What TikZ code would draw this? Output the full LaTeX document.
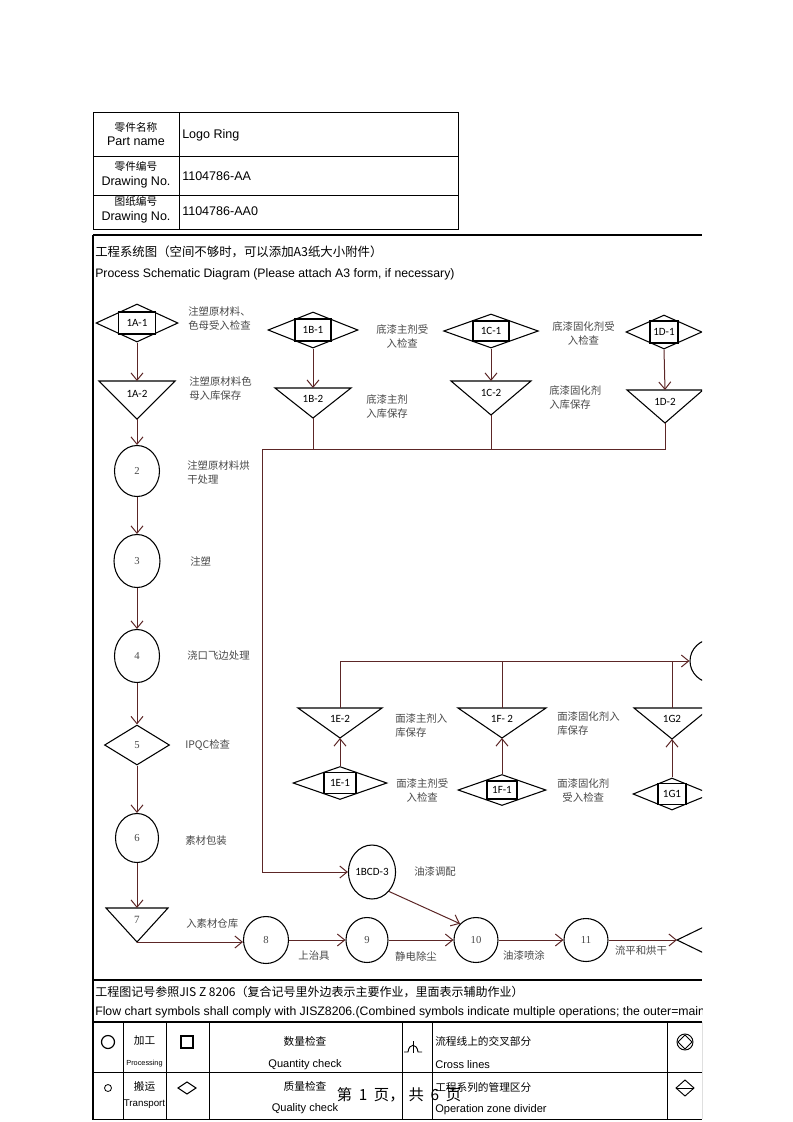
\documentclass[tikz,border=0pt]{standalone}
\usepackage{fontspec}
\setmainfont{Liberation Sans}
\newfontfamily\cjk{Noto Sans CJK SC}
\newfontfamily\tagfont{Carlito}
\newfontfamily\numfont{Liberation Serif}
\usetikzlibrary{shapes.geometric,arrows.meta}

\definecolor{flowred}{RGB}{92,38,38}
\definecolor{descgray}{RGB}{72,72,72}

\tikzset{
  shapeline/.style={draw=black, line width=0.8pt},
  inspect/.style={shapeline, diamond, inner sep=0pt},
  tagbox/.style={shapeline, fill=white, inner sep=0pt, font=\tagfont\fontsize{8.3}{10}\selectfont},
  work/.style={shapeline, ellipse, inner sep=0pt, font=\numfont\fontsize{8}{9}\selectfont, text=descgray},
  desc/.style={font=\cjk\fontsize{7.8}{10.5}\selectfont, text=descgray, inner sep=0pt, anchor=west, align=left},
  flow/.style={draw=flowred, line width=0.75pt},
  flowarrow/.style={flow, -{Straight Barb[length=5.5pt,width=9pt]}},
  cell/.style={inner sep=0pt, align=center, font=\fontsize{8.3}{10.5}\selectfont},
  headcell/.style={inner sep=0pt, align=center, font=\fontsize{9.4}{11}\selectfont},
  frameline/.style={line width=0.9pt}
}

% storage triangle: name, x, top, half width, height, label
\newcommand{\storetri}[6]{%
  \draw[shapeline] (#2-#4,#3) -- (#2+#4,#3) -- (#2,#3+#5) -- cycle;
  \coordinate (#1top) at (#2,#3);
  \coordinate (#1tip) at (#2,#3+#5);
  \node[inner sep=0pt, font=\tagfont\fontsize{8.3}{10}\selectfont] (#1) at (#2,#3+0.35*#5) {#6};}

\begin{document}
\begin{tikzpicture}[x=0.75pt, y=-0.75pt]
\useasboundingbox (0,0) rectangle (793,1122);
\begin{scope}
\clip (0,0) rectangle (702,1122);

% part table
\draw[line width=0.7pt] (93,112) rectangle (458,229);
\draw[line width=0.7pt] (179,112) -- (179,229) (93,156) -- (458,156) (93,195) -- (458,195);
\node[headcell] (nameh) at (136,134) {{\cjk\fontsize{8}{11}\selectfont 零件名称}\\Part name};
\node[headcell] (parth) at (136,175) {{\cjk\fontsize{8}{11}\selectfont 零件编号}\\Drawing No.};
\node[headcell] (drawh) at (136,210) {{\cjk\fontsize{8}{11}\selectfont 图纸编号}\\Drawing No.};
\node[headcell, anchor=west] (namev) at (182,135) {Logo Ring};
\node[headcell, anchor=west] (partv) at (182,176) {1104786-AA};
\node[headcell, anchor=west] (drawv) at (182,211) {1104786-AA0};

% frame
\draw[line width=1.4pt] (93,235) -- (93,1120);
\draw[frameline] (93,235) -- (702,235);
\draw[frameline] (93,980) -- (702,980);
\draw[frameline] (93,1022) -- (702,1022);
\node[anchor=west, inner sep=0pt, font=\cjk\fontsize{9.3}{11}\selectfont] (title) at (95,252) {工程系统图（空间不够时，可以添加A3纸大小附件）};
\node[anchor=west, inner sep=0pt, font=\fontsize{9.2}{11}\selectfont] (subtitle) at (95,274) {Process Schematic Diagram (Please attach A3 form, if necessary)};

% column A
\node[inspect, minimum width=61.5pt, minimum height=28.5pt] (a1d) at (137,323) {};
\node[tagbox, minimum width=27.75pt, minimum height=16.5pt] (a1) at (137,323) {1A-1};
\storetri{a2}{137}{381}{38}{38}{1A-2}
\node[work, minimum width=33.75pt, minimum height=38.25pt] (p2) at (137,471) {2};
\node[work, minimum width=34.5pt, minimum height=39.75pt] (p3) at (137,561) {3};
\node[work, minimum width=33.75pt, minimum height=39.75pt] (p4) at (137,656) {4};
\node[inspect, minimum width=48.75pt, minimum height=30pt, font=\numfont\fontsize{8}{9}\selectfont, text=descgray] (p5) at (137,745) {5};
\node[work, minimum width=32.25pt, minimum height=36.75pt] (p6) at (137,838) {6};
\storetri{p7}{137}{908}{31}{34}{{\numfont\color{descgray}7}}

\node[desc] (a1t) at (188,319) {注塑原材料、\\色母受入检查};
\node[desc] (a2t) at (189,389) {注塑原材料色\\母入库保存};
\node[desc] (p2t) at (187,473) {注塑原材料烘\\干处理};
\node[desc] (p3t) at (190,561) {注塑};
\node[desc] (p4t) at (187,656) {浇口飞边处理};
\node[desc] (p5t) at (185,745) {IPQC检查};
\node[desc] (p6t) at (185,841) {素材包装};
\node[desc] (p7t) at (186,924) {入素材仓库};

\draw[flowarrow] (a1d.south) -- (a2top);
\draw[flowarrow] (a2tip) -- (p2);
\draw[flowarrow] (p2) -- (p3);
\draw[flowarrow] (p3) -- (p4);
\draw[flowarrow] (p4) -- (p5);
\draw[flowarrow] (p5) -- (p6);
\draw[flowarrow] (p6) -- (p7top);

% primer columns B, C, D
\node[inspect, minimum width=67.5pt, minimum height=27pt] (b1d) at (313,330) {};
\node[tagbox, minimum width=27pt, minimum height=16.5pt] (b1) at (313,330) {1B-1};
\storetri{b2}{313}{388}{38}{30}{1B-2}
\node[inspect, minimum width=71pt, minimum height=25.5pt] (c1d) at (491,331) {};
\node[tagbox, minimum width=27pt, minimum height=15pt] (c1) at (491,331) {1C-1};
\storetri{c2}{491}{381}{40}{34}{1C-2}
\node[inspect, minimum width=57pt, minimum height=25.5pt] (d1d) at (664,332) {};
\node[tagbox, minimum width=21pt, minimum height=16.5pt] (d1) at (664,332) {1D-1};
\storetri{d2}{665}{390}{38}{33}{1D-2}

\node[desc, align=center] (b1t) at (376,337) {底漆主剂受\\入检查};
\node[desc] (b2t) at (366,407) {底漆主剂\\入库保存};
\node[desc, align=center] (c1t) at (552,334) {底漆固化剂受\\入检查};
\node[desc] (c2t) at (549,398) {底漆固化剂\\入库保存};

\draw[flowarrow] (b1d.south) -- (b2top);
\draw[flowarrow] (c1d.south) -- (c2top);
\draw[flowarrow] (d1d.south) -- (d2top);

% paint mixing
\coordinate (busl) at (262,449);
\node[work, font=\tagfont\fontsize{8.3}{10}\selectfont, text=black, minimum width=33pt, minimum height=40.5pt] (bcd) at (372,872) {1BCD-3};
\node[desc] (bcdt) at (414,872) {油漆调配};
\draw[flow] (b2tip) -- (b2tip |- busl);
\draw[flow] (c2tip) -- (c2tip |- busl);
\draw[flowarrow] (d2tip) -- (d2tip |- busl) -- (busl) -- (busl |- bcd) -- (bcd);

% top coat columns E, F, G
\storetri{e2}{340}{708}{42}{30}{1E-2}
\node[inspect, minimum width=70.5pt, minimum height=24.75pt] (e1d) at (340,783) {};
\node[tagbox, minimum width=24pt, minimum height=15.75pt] (e1) at (340,783) {1E-1};
\storetri{f2}{502}{708}{44}{30}{1F- 2}
\node[inspect, minimum width=66pt, minimum height=23.25pt] (f1d) at (502,790) {};
\node[tagbox, minimum width=22.5pt, minimum height=13.5pt] (f1) at (502,790) {1F-1};
\storetri{g2}{672}{708}{38}{31}{1G2}
\node[inspect, minimum width=58.5pt, minimum height=24pt] (g1d) at (672,794) {};
\node[tagbox, minimum width=21pt, minimum height=15.75pt] (g1) at (672,794) {1G1};
\node[work, minimum width=34.5pt, minimum height=33pt] (rc) at (713,661) {};

\node[desc] (e2t) at (395,726) {面漆主剂入\\库保存};
\node[desc, align=center] (e1t) at (396,791) {面漆主剂受\\入检查};
\node[desc] (f2t) at (557,724) {面漆固化剂入\\库保存};
\node[desc, align=center] (f1t) at (557,791) {面漆固化剂\\受入检查};

\draw[flowarrow] (e1d.north) -- (e2tip);
\draw[flowarrow] (f1d.north) -- (f2tip);
\draw[flowarrow] (g1d.north) -- (g2tip);
\draw[flow] (f2top) -- (f2top |- rc);
\draw[flow] (g2top) -- (g2top |- rc);
\draw[flowarrow] (e2top) -- (e2top |- rc) -- (rc);

% painting line
\node[work, minimum width=33.75pt, minimum height=35.25pt] (p8) at (266,940) {8};
\node[work, minimum width=31.5pt, minimum height=33.75pt] (p9) at (367,940) {9};
\node[work, minimum width=33pt, minimum height=33.75pt] (p10) at (476,940) {10};
\node[work, minimum width=33pt, minimum height=32.25pt] (p11) at (586,940) {11};
\coordinate (xpt) at (677,940);
\draw[shapeline] (712,923) -- (xpt) -- (712,957);

\node[desc, anchor=center] (p8t) at (314,956) {上治具};
\node[desc, anchor=center] (p9t) at (416,956) {静电除尘};
\node[desc, anchor=center] (p10t) at (524,955) {油漆喷涂};
\node[desc, anchor=center] (p11t) at (641,951) {流平和烘干};

\draw[flowarrow] (p7tip) -- (p7tip -| p8.west);
\draw[flowarrow] (p8) -- (p9);
\draw[flowarrow] (p9) -- (p10);
\draw[flowarrow] (p10) -- (p11);
\draw[flowarrow] (p11) -- (xpt);
\draw[flowarrow] (bcd.south east) -- (p10.north west);

% symbol notes
\node[anchor=west, inner sep=0pt, font=\cjk\fontsize{9}{10}\selectfont] (note) at (95,992) {工程图记号参照JIS Z 8206（复合记号里外边表示主要作业，里面表示辅助作业）};
\node[anchor=west, inner sep=0pt, font=\fontsize{9.2}{10}\selectfont] (notee) at (95,1012) {Flow chart symbols shall comply with JISZ8206.(Combined symbols indicate multiple operations; the outer=main operation)};

% legend table
\draw[line width=0.7pt] (93,1072) -- (702,1072) (93,1119) -- (702,1119);
\foreach \cx in {123,166,209,402,432,667,702}
  \draw[line width=0.7pt] (\cx,1022) -- (\cx,1119);

\draw[line width=0.9pt] (108,1042) circle[radius=6.5];
\draw[line width=0.8pt] (181,1036) rectangle (193,1048);
\draw[line width=0.7pt] (404,1052) -- (408,1052) .. controls (409,1043) and (417,1043) .. (418,1052) -- (422,1052);
\draw[line width=0.7pt] (413,1041) -- (413,1053);
\draw[line width=0.7pt] (685,1042) circle[radius=8];
\draw[line width=0.7pt] (685,1035) -- (692,1042) -- (685,1049) -- (678,1042) -- cycle;
\draw[line width=0.6pt] (108,1088) circle[radius=3.5];
\draw[line width=0.8pt] (178,1088) -- (187,1082) -- (196,1088) -- (187,1094) -- cycle;
\draw[line width=0.7pt] (676,1088) -- (685,1080) -- (694,1088) -- (685,1096) -- cycle;
\draw[line width=0.7pt] (676,1088) -- (694,1088);

\node[cell, font=\cjk\fontsize{8}{10}\selectfont] (procc) at (144.5,1041) {加工};
\node[cell, font=\fontsize{5.5}{7}\selectfont] (proce) at (144.5,1064) {Processing};
\node[cell, font=\cjk\fontsize{8}{10}\selectfont] (qtyc) at (305,1041) {数量检查};
\node[cell] (qtye) at (305,1065) {Quantity check};
\node[cell, anchor=west, font=\cjk\fontsize{8}{10}\selectfont] (crossc) at (435,1041) {流程线上的交叉部分};
\node[cell, anchor=west] (crosse) at (435,1065) {Cross lines};
\node[cell, font=\cjk\fontsize{8}{10}\selectfont] (tranc) at (144.5,1086) {搬运};
\node[cell, font=\fontsize{7.3}{9}\selectfont] (trane) at (144.5,1104) {Transport};
\node[cell, font=\cjk\fontsize{8}{10}\selectfont] (qualc) at (305,1086) {质量检查};
\node[cell] (quale) at (305,1109) {Quality check};
\node[cell, anchor=west, font=\cjk\fontsize{8}{10}\selectfont] (zonec) at (435,1087) {工程系列的管理区分};
\node[cell, anchor=west] (zonee) at (435,1110) {Operation zone divider};
\node[inner sep=0pt, font=\cjk\fontsize{11.5}{13}\selectfont] (pageno) at (399,1095) {第\hspace{5pt}1\hspace{5pt}页，\hspace{3pt}共\hspace{5pt}6\hspace{5pt}页};
\end{scope}
\end{tikzpicture}
\end{document}
